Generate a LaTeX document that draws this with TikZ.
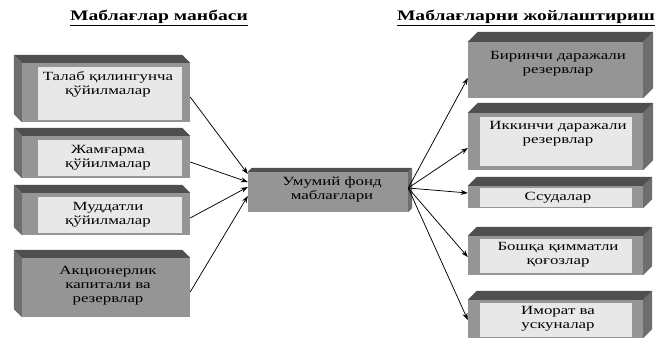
\documentclass[tikz,border=0pt]{standalone}
\usepackage{fontspec}
\usetikzlibrary{arrows.meta}
\setmainfont{Liberation Serif}[FakeStretch=1.35]
\definecolor{topfc}{HTML}{4F4F4F}
\definecolor{sidefc}{HTML}{6E6E6E}
\definecolor{framefc}{HTML}{959595}
\definecolor{innerfc}{HTML}{E8E8E8}
% cube faces: depth to the upper left / upper right of a front node
\newcommand{\leftcube}[2]{%
  \fill[sidefc] (#1.north west) -- ++(-#2,-#2) -- ([shift={(-#2,-#2)}]#1.south west) -- (#1.south west) -- cycle;
  \fill[topfc] (#1.north west) -- ++(-#2,-#2) -- ([shift={(-#2,-#2)}]#1.north east) -- (#1.north east) -- cycle;}
\newcommand{\rightcube}[2]{%
  \fill[sidefc] (#1.north east) -- ++(#2,-#2) -- ([shift={(#2,-#2)}]#1.south east) -- (#1.south east) -- cycle;
  \fill[topfc] (#1.north west) -- ++(#2,-#2) -- ([shift={(#2,-#2)}]#1.north east) -- (#1.north east) -- cycle;}
\begin{document}
\begin{tikzpicture}[x=1pt,y=-1pt,>={Stealth[length=7pt,width=5pt]},
    lfront/.style={rectangle,inner sep=0pt,minimum width=168pt,fill=framefc},
    rfront/.style={rectangle,inner sep=0pt,minimum width=175pt,fill=framefc},
    txt/.style={align=center,inner sep=0pt,font=\fontsize{12.5}{14}\selectfont},
    ttl/.style={inner sep=0pt,font=\fontsize{14.5}{16}\selectfont\bfseries},
    arr/.style={->,line width=0.75pt}]
  \useasboundingbox (0,0) rectangle (658,339);
  \node[ttl] (srcttl) at (159,18) {\underline{Маблағлар манбаси}};
  \node[ttl] (usettl) at (526,18) {\underline{Маблағларни жойлаштириш}};
  % sources
  \node[lfront,minimum height=59pt] (talab) at (106,92.5) {};
  \leftcube{talab}{8}
  \fill[innerfc] ([shift={(16,4)}]talab.north west) rectangle ([shift={(-8,-2)}]talab.south east);
  \node[txt] (talabtxt) at (108,84) {Талаб қилингунча\\қўйилмалар};
  \node[lfront,minimum height=42pt] (jamgarma) at (106,157) {};
  \leftcube{jamgarma}{8}
  \fill[innerfc] ([shift={(16,4)}]jamgarma.north west) rectangle ([shift={(-8,-2)}]jamgarma.south east);
  \node[txt] (jamgarmatxt) at (108,157.5) {Жамғарма\\қўйилмалар};
  \node[lfront,minimum height=42pt] (muddatli) at (106,214) {};
  \leftcube{muddatli}{8}
  \fill[innerfc] ([shift={(16,4)}]muddatli.north west) rectangle ([shift={(-8,-2)}]muddatli.south east);
  \node[txt] (muddatlitxt) at (108,214.5) {Муддатли\\қўйилмалар};
  \node[lfront,minimum height=59pt] (aksiya) at (106,287.5) {};
  \leftcube{aksiya}{8}
  \node[txt] (aksiyatxt) at (108,286) {Акционерлик\\капитали ва\\резервлар};
  % common fund
  \node[rectangle,inner sep=0pt,minimum width=160pt,minimum height=40pt,fill=framefc] (fond) at (328,192) {};
  \rightcube{fond}{4}
  \node[txt] (fondtxt) at (332,189) {Умумий фонд\\маблағлари};
  % uses
  \node[rfront,minimum height=56pt] (birinchi) at (555.5,70) {};
  \rightcube{birinchi}{10}
  \node[txt] (birinchitxt) at (558,64) {Биринчи даражали\\резервлар};
  \node[rfront,minimum height=57pt] (ikkinchi) at (555.5,141.5) {};
  \rightcube{ikkinchi}{10}
  \fill[innerfc] ([shift={(12,4)}]ikkinchi.north west) rectangle ([shift={(-11,-4)}]ikkinchi.south east);
  \node[txt] (ikkinchitxt) at (558,133.5) {Иккинчи даражали\\резервлар};
  \node[rfront,minimum height=22pt] (ssuda) at (555.5,197) {};
  \rightcube{ssuda}{9}
  \fill[innerfc] ([shift={(12,2)}]ssuda.north west) rectangle ([shift={(-11,-1)}]ssuda.south east);
  \node[txt] (ssudatxt) at (558,198) {Ссудалар};
  \node[rfront,minimum height=39pt] (boshqa) at (555.5,255.5) {};
  \rightcube{boshqa}{9}
  \fill[innerfc] ([shift={(12,3)}]boshqa.north west) rectangle ([shift={(-11,-2)}]boshqa.south east);
  \node[txt] (boshqatxt) at (558,255) {Бошқа қимматли\\қоғозлар};
  \node[rfront,minimum height=38pt] (imorat) at (555.5,319) {};
  \rightcube{imorat}{9}
  \fill[innerfc] ([shift={(12,3)}]imorat.north west) rectangle ([shift={(-11,-1)}]imorat.south east);
  \node[txt] (imorattxt) at (558,318.5) {Иморат ва\\ускуналар};
  % arrows
  \draw[arr] ([yshift=-4.5pt]talab.east) -- ([yshift=18pt]fond.west);
  \draw[arr] ([yshift=-5pt]jamgarma.east) -- ([yshift=10pt]fond.west);
  \draw[arr] ([yshift=-4pt]muddatli.east) -- ([yshift=5pt]fond.west);
  \draw[arr] ([yshift=-4.5pt]aksiya.east) -- ([yshift=-4pt]fond.west);
  \draw[arr] ([yshift=4pt]fond.east) -- ([yshift=-8pt]birinchi.west);
  \draw[arr] ([yshift=4pt]fond.east) -- ([yshift=-6.5pt]ikkinchi.west);
  \draw[arr] ([yshift=4pt]fond.east) -- ([yshift=4pt]ssuda.west);
  \draw[arr] ([yshift=4pt]fond.east) -- ([yshift=-1.5pt]boshqa.west);
  \draw[arr] ([yshift=4pt]fond.east) -- ([yshift=-1pt]imorat.west);
\end{tikzpicture}
\end{document}
